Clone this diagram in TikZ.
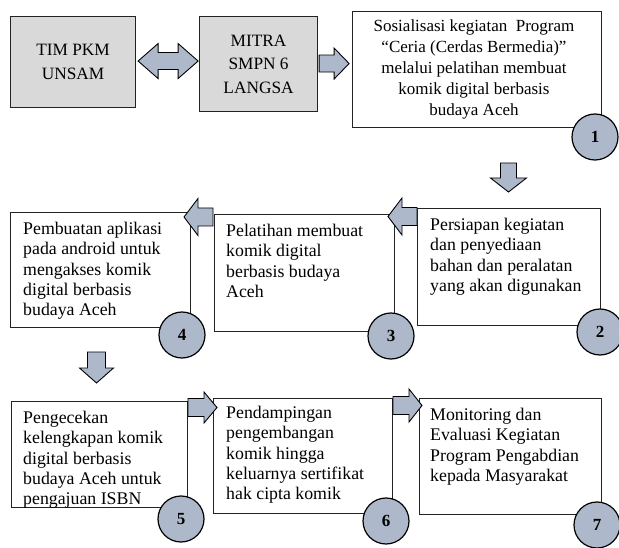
\documentclass[tikz,border=0pt]{standalone}
\usepackage{fontspec}
\setmainfont{Liberation Serif}
\usetikzlibrary{calc}
\definecolor{graybox}{RGB}{217,217,217}
\definecolor{bluegray}{RGB}{173,185,202}
\definecolor{edgec}{RGB}{35,35,35}
% horizontal block arrow: #1 tail point, #2 signed length, #3 signed head length, #4 head half-width, #5 shaft half-width
\newcommand{\hblk}[5]{\draw[blk] ($(#1)+(0,{-(#5)})$) -- ($(#1)+({(#2)-(#3)},{-(#5)})$) -- ($(#1)+({(#2)-(#3)},{-(#4)})$) -- ($(#1)+({#2},0)$) -- ($(#1)+({(#2)-(#3)},{#4})$) -- ($(#1)+({(#2)-(#3)},{#5})$) -- ($(#1)+(0,{#5})$) -- cycle;}
% vertical block arrow (downwards positive)
\newcommand{\vblk}[5]{\draw[blk] ($(#1)+({-(#5)},0)$) -- ($(#1)+({-(#5)},{(#2)-(#3)})$) -- ($(#1)+({-(#4)},{(#2)-(#3)})$) -- ($(#1)+(0,{#2})$) -- ($(#1)+({#4},{(#2)-(#3)})$) -- ($(#1)+({#5},{(#2)-(#3)})$) -- ($(#1)+({#5},0)$) -- cycle;}
\begin{document}
\begin{tikzpicture}[x=1pt,y=-1pt]
\tikzset{
  boxg/.style={draw=edgec, line width=1.1pt, fill=graybox, inner sep=0pt, anchor=north west},
  boxw/.style={draw=edgec, line width=1pt, fill=white, inner sep=0pt, anchor=north west},
  txt/.style={font=\fontsize{17.8}{20.3}\selectfont, inner sep=0pt, align=left, anchor=north west},
  ctxt/.style={font=\fontsize{17.3}{23.5}\selectfont, inner sep=0pt, align=center},
  ctxtb/.style={font=\fontsize{17}{21.2}\selectfont, inner sep=0pt, align=center},
  num/.style={circle, draw=black, line width=1.2pt, fill=bluegray, minimum size=46pt, inner sep=0pt, font=\fontsize{17}{17}\selectfont\bfseries},
  blk/.style={draw=black, line width=0.9pt, fill=bluegray, line join=miter},
}
\useasboundingbox (0,0) rectangle (619,548);

% top row
\node[boxg, minimum width=125pt, minimum height=91pt] (tim) at (10,16) {};
\node[ctxt] (timt) at (tim.center) {TIM PKM\\UNSAM};
\node[boxg, minimum width=118pt, minimum height=95pt] (mitra) at (199,16) {};
\node[ctxt] (mitrat) at (mitra.center) {MITRA\\SMPN 6\\LANGSA};
\node[boxw, minimum width=249pt, minimum height=116pt] (b1) at (352,11) {};
\node[ctxtb] (b1t) at ($(b1.center)+(-3,0)$) {Sosialisasi kegiatan~ Program\\“Ceria (Cerdas Bermedia)”\\melalui pelatihan membuat\\komik digital berbasis\\budaya Aceh};

% middle row
\node[boxw, minimum width=180pt, minimum height=115pt] (b4) at (10,212) {};
\node[txt] (b4t) at ($(b4.north west)+(13,10)$) {Pembuatan aplikasi\\pada android untuk\\mengakses komik\\digital berbasis\\budaya Aceh};
\node[boxw, minimum width=180pt, minimum height=117pt] (b3) at (214,214) {};
\node[txt] (b3t) at ($(b3.north west)+(12,10)$) {Pelatihan membuat\\komik digital\\berbasis budaya\\Aceh};
\node[boxw, minimum width=183pt, minimum height=117pt] (b2) at (417,208) {};
\node[txt] (b2t) at ($(b2.north west)+(13,10)$) {Persiapan kegiatan\\dan penyediaan\\bahan dan peralatan\\yang akan digunakan};

% bottom row
\node[boxw, minimum width=176pt, minimum height=106pt] (b5) at (11,401) {};
\node[txt] (b5t) at ($(b5.north west)+(12,10)$) {Pengecekan\\kelengkapan komik\\digital berbasis\\budaya Aceh untuk\\pengajuan ISBN};
\node[boxw, minimum width=179pt, minimum height=115pt] (b6) at (213,398) {};
\node[txt] (b6t) at ($(b6.north west)+(13,8)$) {Pendampingan\\pengembangan\\komik hingga\\keluarnya sertifikat\\hak cipta komik};
\node[boxw, minimum width=182pt, minimum height=116pt] (b7) at (419,398) {};
\node[txt] (b7t) at ($(b7.north west)+(11,10)$) {Monitoring dan\\Evaluasi Kegiatan\\Program Pengabdian\\kepada Masyarakat};

% double arrow between TIM and MITRA
\coordinate (dA) at ($(tim.east)+(2,-1)$);
\draw[blk] (dA) -- ($(dA)+(20,-17.5)$) -- ($(dA)+(20,-8.5)$) -- ($(dA)+(40,-8.5)$) -- ($(dA)+(40,-17.5)$) -- ($(dA)+(60,0)$) -- ($(dA)+(40,17.5)$) -- ($(dA)+(40,8.5)$) -- ($(dA)+(20,8.5)$) -- ($(dA)+(20,17.5)$) -- cycle;

% single block arrows
\coordinate (a1) at ($(mitra.east)+(1,-0.5)$);
\hblk{a1}{30}{15}{15.5}{8.5}
\coordinate (a2) at ($(b1.south)+(31.5,35)$);
\vblk{a2}{29}{14}{18}{8}
\coordinate (a3) at ($(b2.north west)+(0,8.5)$);
\hblk{a3}{-29}{-14}{18.5}{9}
\coordinate (a4) at ($(b3.north west)+(-1,3)$);
\hblk{a4}{-29}{-14}{18.5}{9}
\coordinate (a5) at ($(b4.south)+(-4,24)$);
\vblk{a5}{31}{15}{17}{9}
\coordinate (a6) at ($(b5.north east)+(0,6.5)$);
\hblk{a6}{29}{13}{15.5}{9}
\coordinate (a7) at ($(b6.north east)+(0,7.5)$);
\hblk{a7}{29}{13}{16.5}{9}

% number circles
\node[num] (c1) at ($(b1.south east)+(-7,9)$) {1};
\node[num] (c4) at ($(b4.south east)+(-9,7)$) {4};
\node[num] (c3) at ($(b3.south east)+(-4,4)$) {3};
\node[num] (c2) at ($(b2.south east)+(-1,6)$) {2};
\node[num] (c5) at ($(b5.south east)+(-7,11)$) {5};
\node[num] (c6) at ($(b6.south east)+(-7,7)$) {6};
\node[num] (c7) at ($(b7.south east)+(-5,10)$) {7};
\end{tikzpicture}
\end{document}
